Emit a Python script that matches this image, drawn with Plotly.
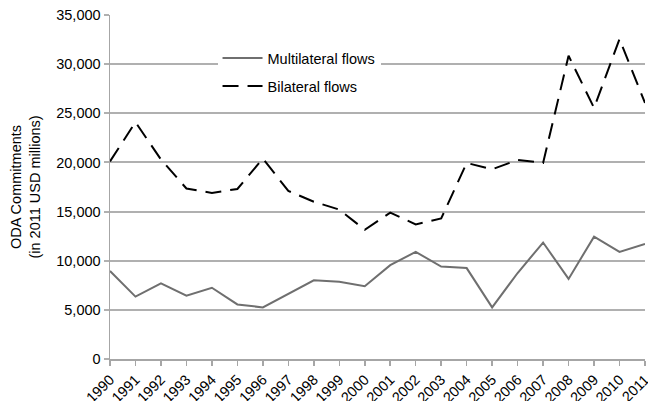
import plotly.graph_objects as go

years = [str(y) for y in range(1990, 2012)]
multilateral = [8950, 6350, 7700, 6450, 7250, 5550, 5250, 6600, 8000, 7850, 7400, 9550,
                10900, 9400, 9250, 5250, 8750, 11850, 8150, 12450, 10900, 11700]
bilateral = [20100, 24100, 20300, 17350, 16900, 17300, 20400, 17100, 16000, 15200, 13150, 14900,
             13700, 14300, 19950, 19300, 20250, 19950, 30850, 25550, 32550, 26050]

fig = go.Figure()
fig.add_trace(go.Scatter(x=years, y=multilateral, mode="lines", name="Multilateral flows",
                         legendgroup="m",
                         line=dict(color="#6f6f6f", width=2)))
fig.add_trace(go.Scatter(x=years, y=bilateral, mode="lines", name="Bilateral flows",
                         legendgroup="b",
                         line=dict(color="#000000", width=2, dash="16px,9px")))

fig.update_layout(
    width=648, height=401,
    margin=dict(l=110, r=3, t=15, b=42),
    paper_bgcolor="white", plot_bgcolor="white",
    font=dict(family="Liberation Sans, Arial, sans-serif", size=14.5, color="#000000"),
    showlegend=True,
    legend=dict(x=0.201, y=0.921, xanchor="left", yanchor="top", bgcolor="white",
                font=dict(size=14.5), itemwidth=40, tracegroupgap=6),
    xaxis=dict(type="category", range=[0, 21], showgrid=False, showline=True,
               linecolor="#a6a6a6", linewidth=1.5, ticks="outside", ticklen=5,
               tickcolor="#a6a6a6", tickwidth=1.5, tickangle=-45, tickfont=dict(size=14.5),
               automargin=False),
    yaxis=dict(range=[0, 35000], dtick=5000, tickformat=",", showgrid=True,
               gridcolor="#b0b0b0", gridwidth=2, showline=True, linecolor="#a6a6a6",
               linewidth=1.5, ticks="outside", ticklen=5, tickcolor="#b0b0b0", tickwidth=2,
               tickfont=dict(size=14.5), zeroline=False, automargin=False,
               title=dict(text="ODA Commitments<br>(in 2011 USD millions)",
                          font=dict(size=14.5), standoff=12)),
)

fig.write_html("out.html",
               config={"displayModeBar": False, "staticPlot": True},
               post_script="document.body.style.margin='0';document.body.style.overflow='hidden';")
